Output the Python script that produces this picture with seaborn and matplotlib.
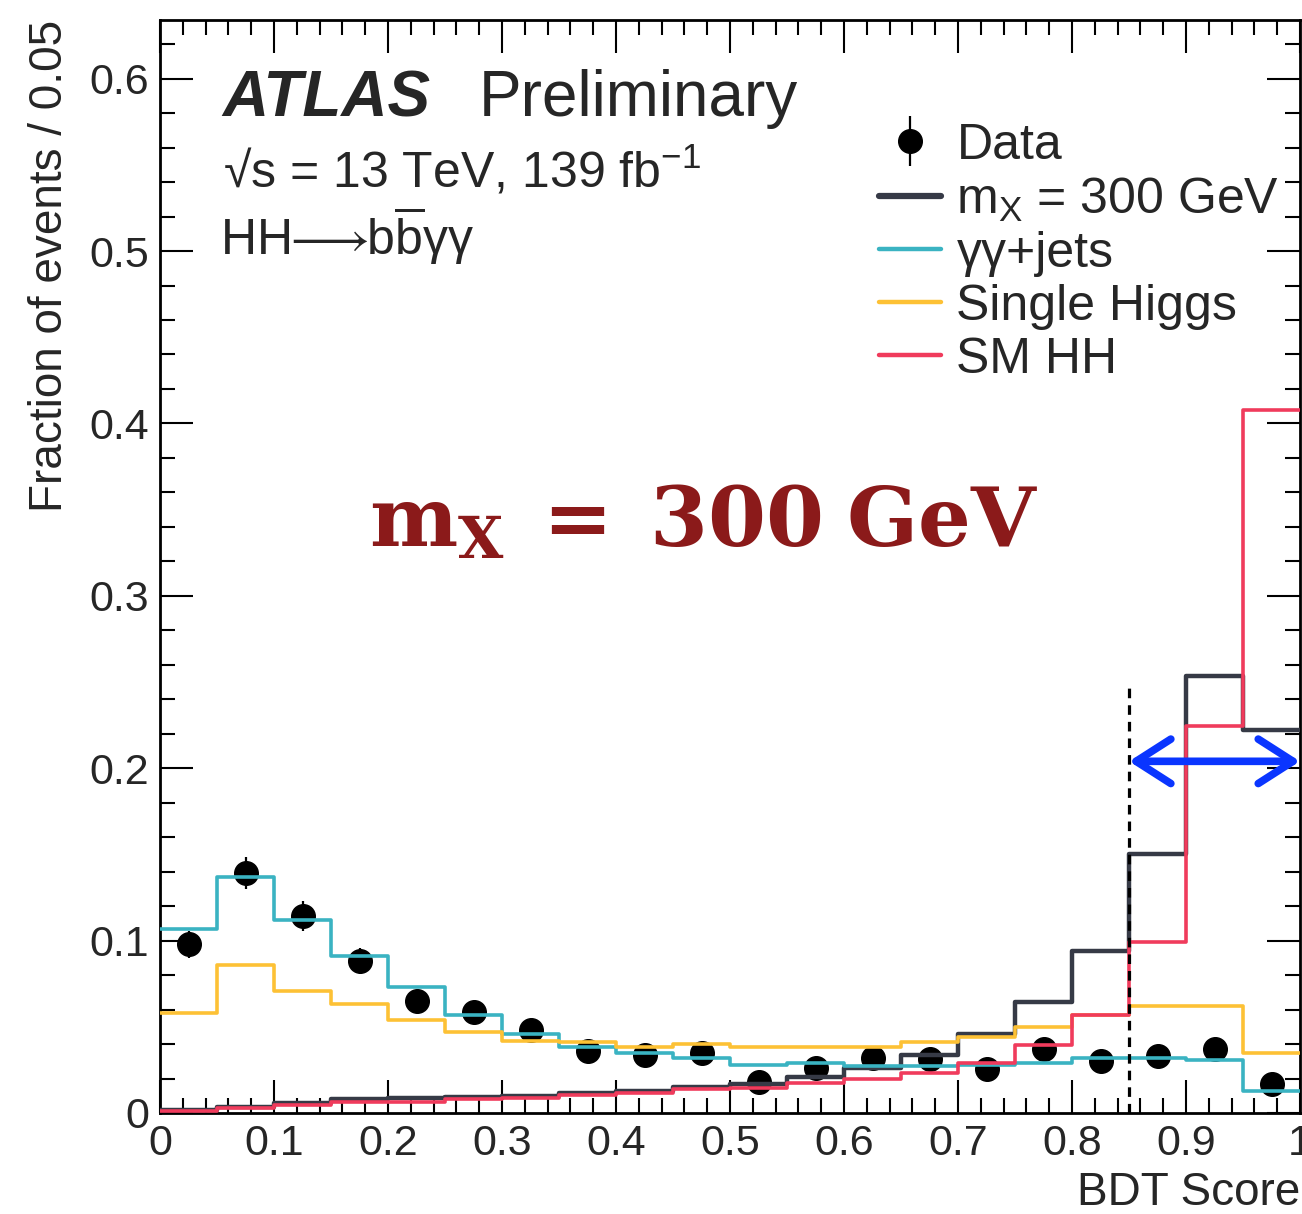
import numpy as np
import pandas as pd
import matplotlib
matplotlib.use("Agg")
import matplotlib.pyplot as plt
from matplotlib.lines import Line2D
from matplotlib.ticker import MultipleLocator
import seaborn as sns

# ---------------- data ----------------
bin_edges = [round(0.05 * i, 2) for i in range(21)]
bin_centers = [round(0.025 + 0.05 * i, 3) for i in range(20)]

gamgam_jets = [0.107, 0.137, 0.112, 0.091, 0.073, 0.057, 0.046, 0.038, 0.035, 0.032,
               0.028, 0.029, 0.027, 0.027, 0.028, 0.029, 0.032, 0.032, 0.031, 0.013]
single_higgs = [0.058, 0.086, 0.071, 0.063, 0.054, 0.047, 0.042, 0.041, 0.038, 0.040,
                0.038, 0.038, 0.038, 0.041, 0.044, 0.050, 0.057, 0.062, 0.062, 0.035]
mx300 = [0.0017, 0.0037, 0.0056, 0.0081, 0.0085, 0.0095, 0.0099, 0.0116, 0.0128, 0.0149,
         0.0168, 0.021, 0.026, 0.0336, 0.046, 0.0645, 0.094, 0.150, 0.2535, 0.222]
sm_hh = [0.0014, 0.0031, 0.0046, 0.0062, 0.0066, 0.0079, 0.0089, 0.0104, 0.0114, 0.0139,
         0.0143, 0.0172, 0.0195, 0.023, 0.029, 0.0396, 0.0567, 0.099, 0.2243, 0.4075]
data_vals = [0.0978, 0.139, 0.1142, 0.0883, 0.0649, 0.0587, 0.0481, 0.0361, 0.0336, 0.035,
             0.0182, 0.0263, 0.0321, 0.0311, 0.0254, 0.0369, 0.0303, 0.0332, 0.0371, 0.0168]
data_errs = [0.008, 0.0093, 0.0086, 0.0075, 0.0065, 0.006, 0.0055, 0.005, 0.005, 0.005,
             0.0045, 0.0045, 0.0045, 0.0045, 0.0045, 0.0045, 0.0045, 0.0045, 0.0045, 0.004]

labels = ["Data", r"m$_{\mathrm{X}}$ = 300 GeV", "γγ+jets", "Single Higgs", "SM HH"]
colors = {"mx": "#363a46", "gg": "#3ab3c2", "sh": "#fdc135", "hh": "#f03b5c"}

cut_value = 0.85
arrow_y = 0.204

# ---------------- style ----------------
sns.set_style("ticks")
plt.rcParams["font.family"] = ["Liberation Sans", "DejaVu Sans"]
plt.rcParams["mathtext.fontset"] = "custom"
plt.rcParams["mathtext.rm"] = "Liberation Sans"
plt.rcParams["mathtext.it"] = "Liberation Sans:italic"
plt.rcParams["mathtext.bf"] = "DejaVu Serif:bold"

fig = plt.figure(figsize=(13.02, 12.14), dpi=100)
ax = fig.add_axes([0.1229, 0.0832, 0.8756, 0.9003])

# data points
data_cont = ax.errorbar(bin_centers, data_vals, yerr=data_errs, fmt="o", color="black",
                        markersize=17, elinewidth=1.6, capsize=0, zorder=2)

df = pd.DataFrame({"x": bin_centers, "mx": mx300, "gg": gamgam_jets,
                   "sh": single_higgs, "hh": sm_hh})
order = [("mx", 3.2, 3), ("gg", 2.6, 4), ("sh", 2.6, 5), ("hh", 2.6, 6)]
for key, lw, z in order:
    sns.histplot(data=df, x="x", weights=key, bins=bin_edges, element="step",
                 fill=False, color=colors[key], linewidth=lw, ax=ax, zorder=z)

# cut line and arrow
ax.plot([cut_value, cut_value], [0, 0.25], color="black", lw=2.3,
        ls=(0, (3, 2.2)), zorder=7)
ax.annotate("", xy=(1.0, arrow_y), xytext=(cut_value, arrow_y),
            arrowprops=dict(arrowstyle="<->,head_length=0.5,head_width=0.32",
                            lw=5.5, color="#0a35ff", shrinkA=0, shrinkB=0,
                            mutation_scale=50), zorder=8)

# axes
ax.set_xlim(0, 1)
ax.set_ylim(0, 0.634)
ax.xaxis.set_minor_locator(MultipleLocator(0.02))
ax.yaxis.set_minor_locator(MultipleLocator(0.02))
ax.set_xticks([0, 0.1, 0.2, 0.3, 0.4, 0.5, 0.6, 0.7, 0.8, 0.9, 1.0])
ax.set_xticklabels(["0", "0.1", "0.2", "0.3", "0.4", "0.5", "0.6", "0.7", "0.8", "0.9", "1"])
ax.set_yticks([0, 0.1, 0.2, 0.3, 0.4, 0.5, 0.6])
ax.set_yticklabels(["0", "0.1", "0.2", "0.3", "0.4", "0.5", "0.6"])
ax.tick_params(which="both", direction="in", top=True, right=True, width=1.5,
               labelsize=31, color="black")
ax.tick_params(which="major", length=24, pad=8)
ax.tick_params(which="minor", length=11)
for s in ax.spines.values():
    s.set_linewidth(2)
    s.set_color("black")

ax.set_xlabel("BDT Score", fontsize=33, loc="right", labelpad=5)
ax.set_ylabel("Fraction of events / 0.05", fontsize=33, loc="top", labelpad=12)

# texts
ax.text(0.055, 0.912, "ATLAS", transform=ax.transAxes, fontsize=46,
        fontweight="bold", fontstyle="italic", va="baseline")
ax.text(0.28, 0.912, "Preliminary", transform=ax.transAxes, fontsize=46,
        va="baseline")
ax.text(0.055, 0.847, "√s = 13 TeV, 139 fb$^{-1}$", transform=ax.transAxes,
        fontsize=36, va="baseline")
ax.text(0.053, 0.785,
        r"HH$\hspace{-0.25}\longrightarrow\hspace{-0.25}$b$\overline{\mathrm{b}}$γγ",
        transform=ax.transAxes, fontsize=36, va="baseline")

ax.text(0.477, 0.329, r"$\mathbf{m_{X}\ =\ 300\ GeV}$", fontsize=60,
        color="#8b1a1a", ha="center", va="baseline")

# legend
handles = [
    data_cont,
    Line2D([], [], color=colors["mx"], lw=4.5),
    Line2D([], [], color=colors["gg"], lw=3.2),
    Line2D([], [], color=colors["sh"], lw=3.2),
    Line2D([], [], color=colors["hh"], lw=3.2),
]
leg = ax.legend(handles, labels, loc="upper left", bbox_to_anchor=(0.631, 0.906),
                frameon=False, fontsize=36, handlelength=1.24, handletextpad=0.3,
                labelspacing=0.14, borderaxespad=0, borderpad=0)

fig.savefig("out.png", dpi=100)
